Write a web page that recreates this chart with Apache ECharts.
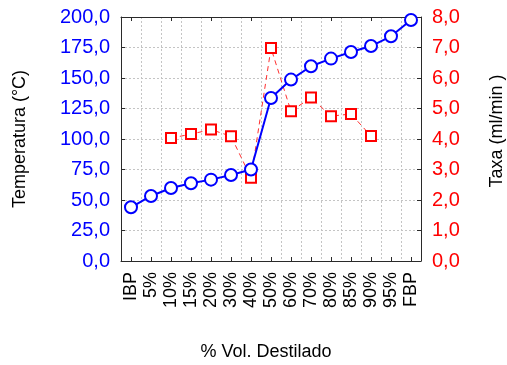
<!DOCTYPE html>
<html>
<head>
<meta charset="utf-8">
<script src="https://cdn.jsdelivr.net/npm/echarts@6/dist/echarts.min.js"></script>
<style>
  html, body { margin: 0; padding: 0; background: #ffffff; }
  #chart { width: 507px; height: 365px; }
</style>
</head>
<body>
<div id="chart"></div>
<script>
// Distillation curve: temperature vs. recovered volume, plus distillation rate
const categories = ['IBP', '5%', '10%', '15%', '20%', '30%', '40%', '50%', '60%', '70%', '80%', '85%', '90%', '95%', 'FBP'];
const temperatura = [44, 53.3, 59.8, 63.7, 66.7, 70.5, 75, 133.6, 148.7, 159.6, 165.9, 171.3, 176.2, 184.2, 197.5];
const taxa = [null, null, 4.03, 4.16, 4.31, 4.09, 2.73, 6.98, 4.91, 5.36, 4.75, 4.82, 4.10, null, null];
const tempTicks = { min: 0, max: 200, interval: 25 };
const taxaTicks = { min: 0, max: 8, interval: 1 };

const FONT = 'Liberation Sans, Arial, sans-serif';
const comma = v => v.toFixed(1).replace('.', ',');
const gridLine = { show: true, lineStyle: { color: '#c4c4c4', type: [2, 2], width: 1 } };
const frameLine = { show: true, onZero: false, lineStyle: { color: '#2a2a2a', width: 1 } };
const tickIn = { show: true, inside: true, length: 4, lineStyle: { color: '#2a2a2a' } };

const chart = echarts.init(document.getElementById('chart'));
chart.setOption({
  animation: false,
  backgroundColor: '#ffffff',
  grid: { left: 121, top: 17, width: 300, height: 244, containLabel: false },
  xAxis: [
    {
      type: 'category', data: categories, boundaryGap: true, position: 'bottom',
      axisLine: frameLine,
      axisTick: Object.assign({ alignWithLabel: true }, tickIn),
      axisLabel: { rotate: 90, margin: 11, color: '#000000', fontSize: 18, fontFamily: FONT, interval: 0 },
      splitLine: Object.assign({ interval: 0 }, gridLine)
    },
    {
      type: 'category', data: categories, boundaryGap: true, position: 'top',
      axisLine: frameLine,
      axisTick: Object.assign({ alignWithLabel: true }, tickIn),
      axisLabel: { show: false },
      splitLine: { show: false }
    }
  ],
  yAxis: [
    {
      type: 'value', position: 'left',
      min: tempTicks.min, max: tempTicks.max, interval: tempTicks.interval,
      axisLine: frameLine, axisTick: tickIn,
      axisLabel: { color: '#0000ff', fontSize: 20, fontFamily: FONT, margin: 11, formatter: comma },
      splitLine: gridLine
    },
    {
      type: 'value', position: 'right',
      min: taxaTicks.min, max: taxaTicks.max, interval: taxaTicks.interval,
      axisLine: frameLine, axisTick: tickIn,
      axisLabel: { color: '#ff0000', fontSize: 20, fontFamily: FONT, margin: 11, formatter: comma },
      splitLine: { show: false }
    }
  ],
  graphic: [
    {
      type: 'text', x: 20, y: 139, rotation: Math.PI / 2,
      style: { text: 'Temperatura (°C)', font: '18px ' + FONT, fill: '#000000', align: 'center', verticalAlign: 'middle' }
    },
    {
      type: 'text', x: 497, y: 131, rotation: Math.PI / 2,
      style: { text: 'Taxa (ml/min )', font: '18px ' + FONT, fill: '#000000', align: 'center', verticalAlign: 'middle' }
    },
    {
      type: 'text', x: 266, y: 352,
      style: { text: '% Vol. Destilado', font: '18px ' + FONT, fill: '#000000', align: 'center', verticalAlign: 'middle' }
    }
  ],
  series: [
    {
      name: 'Taxa', type: 'line', xAxisIndex: 0, yAxisIndex: 1, data: taxa,
      symbol: 'rect', symbolSize: 10, z: 2,
      lineStyle: { color: '#ff3030', width: 1, type: [5, 4] },
      itemStyle: { color: '#ffffff', borderColor: '#ff0000', borderWidth: 2 }
    },
    {
      name: 'Temperatura', type: 'line', xAxisIndex: 0, yAxisIndex: 0, data: temperatura,
      symbol: 'circle', symbolSize: 12, z: 3,
      lineStyle: { color: '#0000ff', width: 2 },
      itemStyle: { color: '#ffffff', borderColor: '#0000ff', borderWidth: 2 }
    }
  ]
});
</script>
</body>
</html>
